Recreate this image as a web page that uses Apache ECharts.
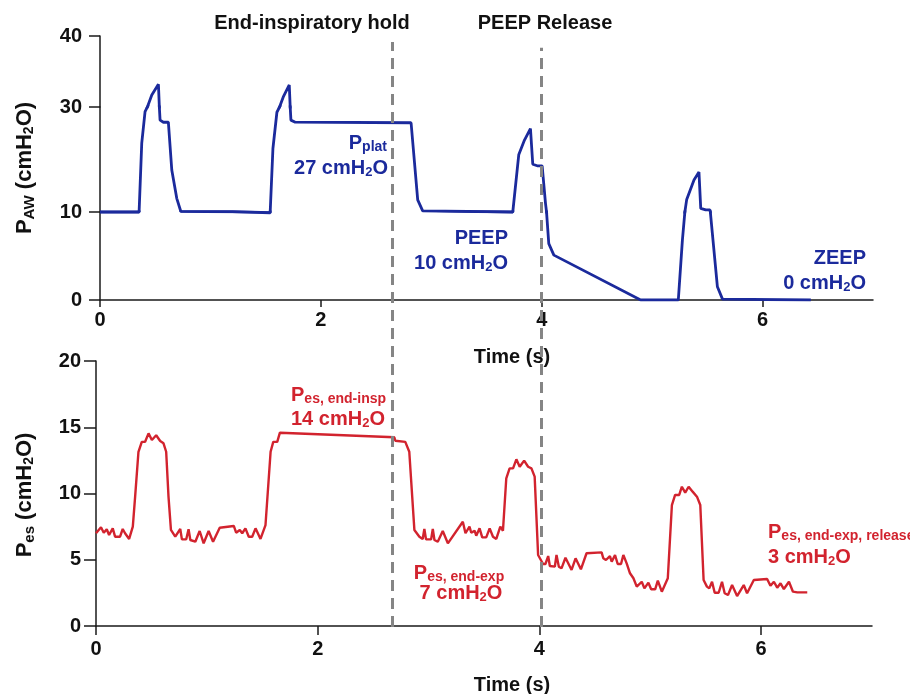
<!DOCTYPE html>
<html lang="en">
<head>
<meta charset="UTF-8" />
<title>Airway and esophageal pressure: end-inspiratory hold and PEEP release</title>
<script src="https://cdn.jsdelivr.net/npm/echarts@6/dist/echarts.min.js"></script>
<style>
  html, body { margin: 0; padding: 0; background: #fff; }
  #chart { width: 910px; height: 694px; }
</style>
</head>
<body>
<div id="chart"></div>
<script>
  // airway pressure, [time (s), cmH2O]
  const pawPoints = [
    [0, 10], [0.354, 10], [0.378, 23.1], [0.408, 29.1], [0.469, 31.7], [0.529, 33.2],
    [0.544, 27.5], [0.574, 27.1], [0.619, 27.1], [0.650, 18.0], [0.695, 12.6], [0.732, 10.1],
    [1.2, 10.05], [1.541, 9.9], [1.566, 22.1], [1.602, 29.0], [1.662, 31.5], [1.714, 33.1],
    [1.729, 27.5], [1.768, 27.1], [2.817, 27.0], [2.877, 12.3], [2.922, 10.2], [3.738, 10],
    [3.792, 20.9], [3.844, 23.7], [3.898, 25.9], [3.919, 19.1], [3.959, 18.8], [4.004, 18.8],
    [4.034, 11.7], [4.064, 6.4], [4.110, 5.1], [4.896, 0], [5.237, 0], [5.274, 6.8],
    [5.313, 12.4], [5.379, 16.1], [5.424, 17.6], [5.440, 10.7], [5.485, 10.4], [5.524, 10.4],
    [5.591, 1.5], [5.637, 0.1], [6.437, 0]
  ];

  // esophageal pressure, [time (s), cmH2O]
  const pesPoints = [
    [0, 7.0], [0.045, 7.45], [0.07, 7.04], [0.097, 7.30], [0.118, 6.87], [0.151, 7.37],
    [0.172, 6.74], [0.217, 6.74], [0.241, 7.32], [0.262, 7.0], [0.299, 6.57], [0.332, 7.5],
    [0.353, 9.76], [0.383, 13.15], [0.413, 13.9], [0.443, 13.9], [0.474, 14.54], [0.504, 14.04],
    [0.543, 14.4], [0.579, 13.96], [0.609, 13.79], [0.633, 13.15], [0.654, 9.76], [0.676, 7.25],
    [0.715, 6.74], [0.730, 6.62], [0.760, 7.32], [0.775, 6.54], [0.814, 6.54], [0.835, 7.30],
    [0.851, 6.49], [0.896, 6.36], [0.935, 7.17], [0.971, 6.24], [1.016, 7.17], [1.056, 6.36],
    [1.116, 7.42], [1.243, 7.55], [1.264, 7.04], [1.297, 7.25], [1.319, 7.0], [1.348, 7.37],
    [1.378, 6.74], [1.409, 6.74], [1.439, 7.37], [1.484, 6.57], [1.529, 7.62], [1.575, 13.15],
    [1.599, 13.9], [1.635, 13.9], [1.659, 14.59], [2.691, 14.24], [2.700, 13.98], [2.790, 13.9],
    [2.826, 13.15], [2.872, 7.25], [2.917, 6.74], [2.947, 6.57], [2.962, 7.32], [2.977, 6.54],
    [3.023, 6.54], [3.038, 7.32], [3.053, 6.49], [3.083, 6.36], [3.128, 7.17], [3.174, 6.24],
    [3.309, 7.87], [3.333, 7.0], [3.369, 7.5], [3.385, 7.04], [3.415, 7.19], [3.430, 6.82],
    [3.460, 7.37], [3.484, 6.69], [3.520, 6.69], [3.551, 7.37], [3.581, 6.74], [3.611, 6.57],
    [3.647, 7.5], [3.671, 7.19], [3.701, 11.15], [3.731, 11.9], [3.762, 11.9], [3.792, 12.58],
    [3.822, 12.02], [3.862, 12.48], [3.898, 12.02], [3.928, 11.9], [3.957, 11.27], [3.988, 5.36],
    [4.033, 4.68], [4.054, 4.68], [4.079, 5.28], [4.094, 4.53], [4.139, 4.48], [4.154, 5.36],
    [4.175, 4.48], [4.199, 4.35], [4.235, 5.15], [4.290, 4.23], [4.326, 5.11], [4.374, 4.28],
    [4.425, 5.49], [4.561, 5.56], [4.576, 5.11], [4.600, 4.98], [4.636, 5.28], [4.652, 4.85],
    [4.682, 5.36], [4.706, 4.68], [4.736, 4.68], [4.757, 5.36], [4.787, 4.73], [4.817, 3.98],
    [4.848, 3.60], [4.878, 2.97], [4.923, 3.34], [4.947, 2.84], [4.983, 3.27], [5.008, 2.77],
    [5.044, 2.77], [5.068, 3.42], [5.104, 2.59], [5.158, 3.60], [5.195, 9.13], [5.224, 9.89],
    [5.261, 9.89], [5.285, 10.51], [5.315, 10.06], [5.346, 10.51], [5.382, 10.14], [5.421, 9.76],
    [5.451, 9.13], [5.481, 3.47], [5.511, 2.97], [5.532, 2.84], [5.557, 3.34], [5.581, 2.51],
    [5.617, 2.51], [5.647, 3.34], [5.671, 2.47], [5.701, 2.34], [5.738, 3.09], [5.783, 2.26],
    [5.843, 3.09], [5.873, 2.47], [5.934, 3.47], [6.054, 3.55], [6.084, 3.04], [6.115, 3.34],
    [6.145, 2.89], [6.175, 3.22], [6.205, 2.79], [6.251, 3.34], [6.287, 2.59], [6.326, 2.54],
    [6.416, 2.54]
  ];

  const timeTicks = [0, 2, 4, 6];
  // the PAW axis is drawn in three bands: 0-10, 10-30, 30-40
  const pawBands = [[30, 40], [10, 30], [0, 10]];
  const pesRange = [0, 20, 5];
  const holdTime = 2.645;
  const releaseTime = 4.0;

  const FONT = '"Liberation Sans", Arial, Helvetica, sans-serif';
  const BLUE = '#1b2a9c';
  const RED = '#d2232e';
  const AXIS = '#1a1a1a';

  const chart = echarts.init(document.getElementById('chart'));

  const axisLine = { lineStyle: { color: AXIS, width: 1.5 } };
  const tickFont = { color: '#111', fontSize: 20, fontWeight: 'bold', fontFamily: FONT };

  function rich(color, big, small) {
    const base = { fontWeight: 'bold', fontFamily: FONT, fill: color, color: color };
    return {
      m: Object.assign({ fontSize: big }, base),
      s: Object.assign({ fontSize: small, padding: [Math.round(big * 0.45), 0, 0, 0] }, base),
      d: Object.assign({ fontSize: small - 1, padding: [Math.round(big * 0.4), 0, 0, 0] }, base)
    };
  }

  function note(x, y, text, color, align, opts) {
    opts = opts || {};
    const big = opts.big || 20, small = opts.small || 14;
    return {
      type: 'text', x: x, y: y, rotation: opts.rotation || 0, silent: true,
      style: {
        text: text, rich: rich(color, big, small),
        fontSize: big, fontWeight: 'bold', fontFamily: FONT, fill: color,
        align: align, textAlign: align, verticalAlign: 'middle', textVerticalAlign: 'middle'
      }
    };
  }

  const grids = [
    { left: 100, right: 37, top: 36, height: 71 },
    { left: 100, right: 37, top: 107, height: 105 },
    { left: 100, right: 37, top: 212, height: 88 },
    { left: 96, right: 38, top: 361, height: 265 },
    { left: 100, right: 37, top: 42, height: 585 }   // overlay for event lines
  ];

  const xAxes = grids.map((g, i) => {
    const shown = i === 2 || i === 3;
    return {
      type: 'value', gridIndex: i, min: 0, max: 7, show: shown,
      axisLine: axisLine,
      axisTick: { length: i === 2 ? 7 : 9, lineStyle: { color: AXIS, width: 1.5 }, customValues: timeTicks },
      axisLabel: Object.assign({ margin: i === 2 ? 10 : 13, customValues: timeTicks }, tickFont),
      splitLine: { show: false }
    };
  });

  const yAxes = pawBands.map((b, i) => ({
    type: 'value', gridIndex: i, min: b[0], max: b[1], interval: b[1] - b[0],
    axisLine: axisLine,
    axisTick: { length: 11, lineStyle: { color: AXIS, width: 1.5 } },
    axisLabel: Object.assign({ margin: 18, showMinLabel: i === 2 }, tickFont),
    splitLine: { show: false }
  }));
  yAxes.push({
    type: 'value', gridIndex: 3, min: pesRange[0], max: pesRange[1], interval: pesRange[2],
    axisLine: axisLine,
    axisTick: { length: 12, lineStyle: { color: AXIS, width: 1.5 } },
    axisLabel: Object.assign({ margin: 15 }, tickFont),
    splitLine: { show: false }
  });
  yAxes.push({ type: 'value', gridIndex: 4, min: 0, max: 1, show: false });

  const series = pawBands.map((b, i) => ({
    type: 'line', xAxisIndex: i, yAxisIndex: i, data: pawPoints,
    symbol: 'none', clip: true, lineStyle: { color: BLUE, width: 2.8 }, z: 3
  }));
  series.push({
    type: 'line', xAxisIndex: 3, yAxisIndex: 3, data: pesPoints,
    symbol: 'none', clip: true, lineStyle: { color: RED, width: 2.4 }, z: 3
  });
  series.push({
    type: 'line', xAxisIndex: 4, yAxisIndex: 4, data: [], z: 10,
    markLine: {
      silent: true, symbol: 'none', animation: false,
      label: { show: false },
      lineStyle: { type: [11, 7], color: '#858585', width: 3 },
      data: [
        [{ coord: [holdTime, 0] }, { coord: [holdTime, 1] }],
        [{ coord: [releaseTime, 0] }, { coord: [releaseTime, 0.99] }]
      ]
    }
  });

  const graphics = [
    note(312, 23, 'End-inspiratory hold', '#111', 'center'),
    note(545, 23, 'PEEP Release', '#111', 'center'),
    note(512, 357, 'Time (s)', '#111', 'center'),
    note(512, 685, 'Time (s)', '#111', 'center'),
    note(25, 168, '{m|P}{s|AW}{m| (cmH}{d|2}{m|O)}', '#111', 'center', { big: 22, small: 15, rotation: Math.PI / 2 }),
    note(25, 495, '{m|P}{s|es}{m| (cmH}{d|2}{m|O)}', '#111', 'center', { big: 22, small: 15, rotation: Math.PI / 2 }),

    note(387, 143, '{m|P}{s|plat}', BLUE, 'right'),
    note(388, 168, '{m|27 cmH}{d|2}{m|O}', BLUE, 'right'),
    note(508, 238, '{m|PEEP}', BLUE, 'right'),
    note(508, 263, '{m|10 cmH}{d|2}{m|O}', BLUE, 'right'),
    note(866, 258, '{m|ZEEP}', BLUE, 'right'),
    note(866, 283, '{m|0 cmH}{d|2}{m|O}', BLUE, 'right'),

    note(291, 395, '{m|P}{s|es, end-insp}', RED, 'left'),
    note(291, 419, '{m|14 cmH}{d|2}{m|O}', RED, 'left'),
    note(459, 573, '{m|P}{s|es, end-exp}', RED, 'center'),
    note(461, 593, '{m|7 cmH}{d|2}{m|O}', RED, 'center'),
    note(768, 532, '{m|P}{s|es, end-exp, release}', RED, 'left'),
    note(768, 557, '{m|3 cmH}{d|2}{m|O}', RED, 'left')
  ];

  chart.setOption({
    animation: false,
    backgroundColor: '#fff',
    grid: grids,
    xAxis: xAxes,
    yAxis: yAxes,
    series: series,
    graphic: graphics
  });
</script>
</body>
</html>
